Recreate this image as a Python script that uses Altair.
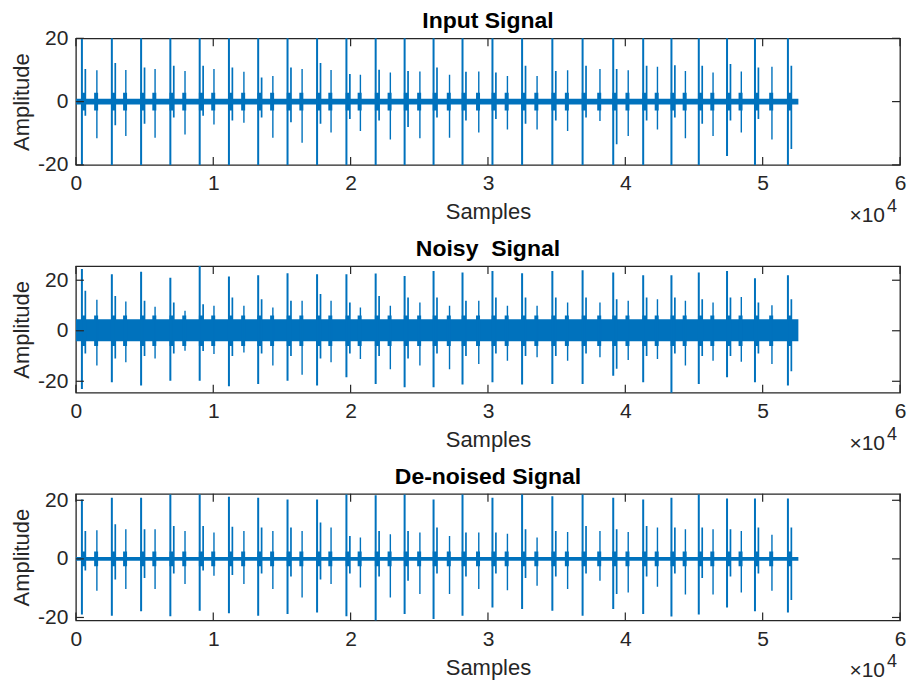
import altair as alt
import pandas as pd

FONT = "Liberation Sans"
BLUE = "#0072BD"
AXC = "#262626"

# ---------------- data ----------------
sig_end = 52600

s1_x = [436, 2616, 4746, 6875, 9012, 11141, 13270, 15407, 17558, 19695, 21824, 23932, 26039,
        28147, 30327, 32485, 34688, 36890, 39120, 41301, 43358, 45349, 47406, 49440, 51839]
s1b_x = [686, 2866, 4996, 7125, 9262, 11391, 13520, 15657, 17808, 19945, 22074, 24182, 26289,
         28397, 30577, 32735, 34938, 37140, 39370, 41551, 43608, 45599, 47656, 49690, 52089]
s2_x = [1526, 3634, 5763, 7943, 10051, 12231, 14339, 16468, 18576, 20712, 22892, 25044,
        27202, 29331, 31417, 33576, 35799, 38154, 40211, 42340, 44375, 46388, 48445, 50676]

# Input signal
p1_s1_hi = [24, 24, 24, 24, 24, 24, 24, 24, 24, 24, 24, 24, 24, 24, 24, 24, 24, 24, 24, 24, 24, 24, 24, 24, 24]
p1_s1_lo = [-24, -24, -24, -24, -24, -24, -24, -24, -24, -24, -24, -24, -24, -24, -24, -24, -24, -24, -24,
            -24, -24, -24, -17.2, -24, -24]
p1_s1b_hi = [10.3, 12.2, 10.8, 11.3, 11.3, 10.8, 7.6, 10.8, 12.2, 8.7, 10.1, 9.7, 10.8, 9.4, 9.2, 11.3,
             9.7, 11.3, 10.3, 11.3, 11.5, 11.3, 11.9, 10.8, 11.3]
p1_s1b_lo = [-4.5, -7.5, -7.0, -5.0, -4.5, -6.0, -5.0, -6.5, -7.0, -5.5, -6.0, -8.0, -5.0, -6.0, -5.5,
             -7.0, -6.0, -5.0, -13.5, -6.0, -5.0, -7.0, -6.0, -5.5, -15.0]
p1_s2_hi = [9.9, 10.0, 10.3, 9.7, 10.3, 9.4, 8.1, 10.3, 10.0, 8.5, 9.2, 9.5, 8.5, 9.5, 8.1, 8.1, 9.9,
            10.3, 9.9, 11.0, 9.7, 9.2, 9.5, 11.0]
p1_s2_lo = [-11.6, -10.9, -11.4, -10.4, -7.2, -6.7, -11.4, -13.0, -9.8, -9.3, -12.0, -11.6, -11.4, -9.8,
            -8.8, -8.8, -9.3, -6.1, -10.9, -8.8, -11.6, -10.9, -9.8, -12.0]

# Noisy signal
p2_s1_hi = [24.4, 22.4, 23.4, 21.0, 25.6, 21.5, 22.0, 22.8, 22.4, 22.4, 22.7, 21.7, 23.7, 23.1, 23.7,
            22.8, 23.7, 24.0, 23.1, 22.0, 22.0, 23.1, 23.7, 20.8, 22.0]
p2_s1_lo = [-23.1, -20.4, -21.7, -19.8, -19.8, -22.0, -21.1, -19.8, -21.7, -18.4, -21.1, -22.4, -22.4,
            -21.3, -20.4, -21.3, -21.1, -21.1, -17.8, -20.4, -24.6, -21.1, -18.4, -20.4, -21.7]
p2_s1b_hi = [15.8, 13.8, 11.9, 11.2, 10.5, 13.2, 12.5, 11.9, 14.5, 11.2, 13.8, 13.2, 13.2, 11.9, 13.2,
             13.2, 13.2, 13.2, 12.5, 13.2, 13.2, 12.5, 13.2, 11.2, 12.5]
p2_s1b_lo = [-9, -11, -10, -9, -8, -10, -9, -10, -11, -9, -10, -11, -9, -10, -9, -10, -10, -9, -15, -10,
             -9, -10, -10, -9, -16]
p2_s2_hi = [12.3, 11.6, 9.5, 7.9, 9.9, 9.9, 9.2, 11.9, 11.9, 9.2, 9.9, 11.2, 9.9, 11.9, 9.9, 9.9, 11.2,
            11.2, 11.9, 12.5, 11.9, 11.2, 13.4, 10.1]
p2_s2_lo = [-13.8, -12.5, -11.0, -7.9, -9.2, -8.6, -13.8, -17.4, -12.5, -11.2, -15.2, -13.8, -15.2,
            -13.2, -11.9, -10.5, -11.9, -10.5, -11.6, -11.2, -13.8, -11.9, -12.3, -13.2]

# De-noised signal
p3_s1_hi = [20.3, 20.9, 20.9, 22.0, 22.0, 21.2, 20.9, 20.3, 20.3, 22.0, 21.7, 22.0, 20.3, 22.0, 20.9,
            22.0, 21.4, 22.0, 20.9, 20.3, 20.9, 22.0, 20.6, 20.6, 20.6]
p3_s1_lo = [-19.0, -19.4, -17.9, -19.6, -17.7, -18.6, -19.4, -18.8, -18.3, -19.6, -21.1, -18.8, -20.5,
            -19.4, -16.6, -17.1, -17.7, -19.4, -17.1, -18.8, -19.7, -19.0, -16.6, -17.9, -18.3]
p3_s1b_hi = [9.5, 11.8, 10.1, 11.2, 11.2, 11.0, 10.7, 10.7, 12.4, 7.8, 9.5, 9.5, 10.7, 9.0, 9.0, 10.1,
             9.5, 11.2, 10.1, 11.2, 10.7, 10.7, 10.1, 10.7, 10.7]
p3_s1b_lo = [-4, -7, -6.5, -5, -4, -5.5, -5, -6, -7, -5, -6, -7.5, -5, -6, -5, -6.5, -6, -5, -12, -6,
             -5, -6.5, -6, -5, -14]
p3_s2_hi = [9.75, 10.1, 10.1, 9.5, 9.0, 9.5, 9.5, 9.5, 10.7, 7.3, 8.4, 9.0, 7.8, 9.0, 8.6, 7.3, 9.2,
            9.5, 9.2, 10.7, 10.1, 10.1, 9.5, 8.2]
p3_s2_lo = [-10.9, -10.3, -10.3, -8.6, -5.8, -8.6, -10.3, -13.2, -8.6, -9.8, -13.2, -12.0, -12.0,
            -10.3, -10.7, -9.2, -10.3, -7.5, -11.5, -9.5, -12.2, -12.2, -11.5, -10.9]

# background oscillation band and beat-activity amplitude, per panel
p1_band = [-0.9, 0.9]
p2_band = [-4.2, 4.6]
p3_band = [-0.6, 0.6]
p1_blob = 2.8
p2_blob = 6.0
p3_blob = 2.5
s1_blob_span = [-60, 260]
s2_blob_span = [-200, 90]

x_ticks = [0, 10000, 20000, 30000, 40000, 50000, 60000]
y_ticks = [-20, 0, 20]

W = 825
H = 126.7
TL = 8
Y_LABEL = "datum.value < 0 ? '-' + abs(datum.value) : '' + datum.value"


def panel(title, s1_hi, s1_lo, s1b_hi, s1b_lo, s2_hi, s2_lo, band, blob, ydom):
    xs = alt.Scale(domain=[0, 60000], nice=False, zero=False)
    ys = alt.Scale(domain=ydom, nice=False, zero=False)
    xaxis = alt.Axis(values=x_ticks, labelExpr="datum.value / 10000", title="Samples",
                     labelFlush=False)
    yaxis = alt.Axis(values=y_ticks, labelExpr=Y_LABEL, title="Amplitude", labelFlush=False)

    def X(f):
        return alt.X(f, scale=xs, axis=xaxis)

    def Y(f):
        return alt.Y(f, scale=ys, axis=yaxis)

    band_df = pd.DataFrame({"x": [0], "x2": [sig_end], "lo": [band[0]], "hi": [band[1]]})
    band_l = alt.Chart(band_df).mark_rect(color=BLUE, clip=True).encode(
        x=X("x:Q"), x2="x2:Q", y=Y("lo:Q"), y2="hi:Q")

    blob_df = pd.DataFrame({
        "x": [s + s1_blob_span[0] for s in s1_x] + [s + s2_blob_span[0] for s in s2_x],
        "x2": [s + s1_blob_span[1] for s in s1_x] + [s + s2_blob_span[1] for s in s2_x],
        "lo": [-blob] * (len(s1_x) + len(s2_x)),
        "hi": [blob] * (len(s1_x) + len(s2_x)),
    })
    blob_l = alt.Chart(blob_df).mark_rect(color=BLUE, clip=True).encode(
        x=X("x:Q"), x2="x2:Q", y=Y("lo:Q"), y2="hi:Q")

    sp_df = pd.DataFrame({
        "x": s1_x + s1b_x + s2_x,
        "lo": s1_lo + s1b_lo + s2_lo,
        "hi": s1_hi + s1b_hi + s2_hi,
        "kind": ["s1"] * len(s1_x) + ["s1b"] * len(s1b_x) + ["s2"] * len(s2_x),
    })
    sp_l = alt.Chart(sp_df).mark_rule(color=BLUE, clip=True).encode(
        x=X("x:Q"), y=Y("lo:Q"), y2="hi:Q",
        strokeWidth=alt.StrokeWidth("kind:N", scale=alt.Scale(domain=["s1", "s1b", "s2"],
                                                               range=[2.0, 1.4, 1.5]), legend=None))

    xt = pd.DataFrame({"v": x_ticks})
    yt = pd.DataFrame({"v": y_ticks})
    tk = dict(color=AXC, strokeWidth=1.2)
    xt_top = alt.Chart(xt).mark_rule(**tk).encode(x=X("v:Q"), y=alt.value(0), y2=alt.value(TL))
    xt_bot = alt.Chart(xt).mark_rule(**tk).encode(x=X("v:Q"), y=alt.value(H - TL), y2=alt.value(H))
    yt_l = alt.Chart(yt).mark_rule(**tk).encode(y=Y("v:Q"), x=alt.value(0), x2=alt.value(TL))
    yt_r = alt.Chart(yt).mark_rule(**tk).encode(y=Y("v:Q"), x=alt.value(W - TL), x2=alt.value(W))

    mult = alt.Chart(pd.DataFrame({"t": ["×10"]})).mark_text(
        align="right", baseline="alphabetic", font=FONT, fontSize=21, color=AXC).encode(
        text="t:N", x=alt.value(810), y=alt.value(H + 57))
    expo = alt.Chart(pd.DataFrame({"t": ["4"]})).mark_text(
        align="left", baseline="alphabetic", font=FONT, fontSize=18, color=AXC).encode(
        text="t:N", x=alt.value(812), y=alt.value(H + 47))
    ttl = alt.Chart(pd.DataFrame({"t": [title]})).mark_text(
        align="center", baseline="alphabetic", font=FONT, fontSize=23, fontWeight="bold",
        color="black").encode(text="t:N", x=alt.value(W / 2), y=alt.value(-10))

    return alt.layer(band_l, blob_l, sp_l, xt_top, xt_bot, yt_l, yt_r, mult, expo, ttl).properties(
        width=W, height=H)


c1 = panel("Input Signal", p1_s1_hi, p1_s1_lo, p1_s1b_hi, p1_s1b_lo, p1_s2_hi, p1_s2_lo,
           p1_band, p1_blob, [-20, 20])
c2 = panel("Noisy\u00a0 Signal", p2_s1_hi, p2_s1_lo, p2_s1b_hi, p2_s1b_lo, p2_s2_hi, p2_s2_lo,
           p2_band, p2_blob, [-24.5, 25.6])
c3 = panel("De-noised Signal", p3_s1_hi, p3_s1_lo, p3_s1b_hi, p3_s1b_lo, p3_s2_hi, p3_s2_lo,
           p3_band, p3_blob, [-21, 22.2])

chart = alt.vconcat(c1, c2, c3, spacing=101, bounds="flush").properties(
    padding={"left": 9, "top": 9, "right": 5, "bottom": 3}
).configure_view(stroke=AXC, strokeWidth=1.3).configure_axis(
    grid=False, domain=False, ticks=False,
    labelFont=FONT, labelFontSize=21, labelColor=AXC, labelPadding=8,
    titleFont=FONT, titleFontSize=22, titleFontWeight="normal", titleColor=AXC, titlePadding=8,
).configure_axisY(titlePadding=4, labelPadding=8)

chart.save("out.html", embed_options={"renderer": "svg", "actions": False})
